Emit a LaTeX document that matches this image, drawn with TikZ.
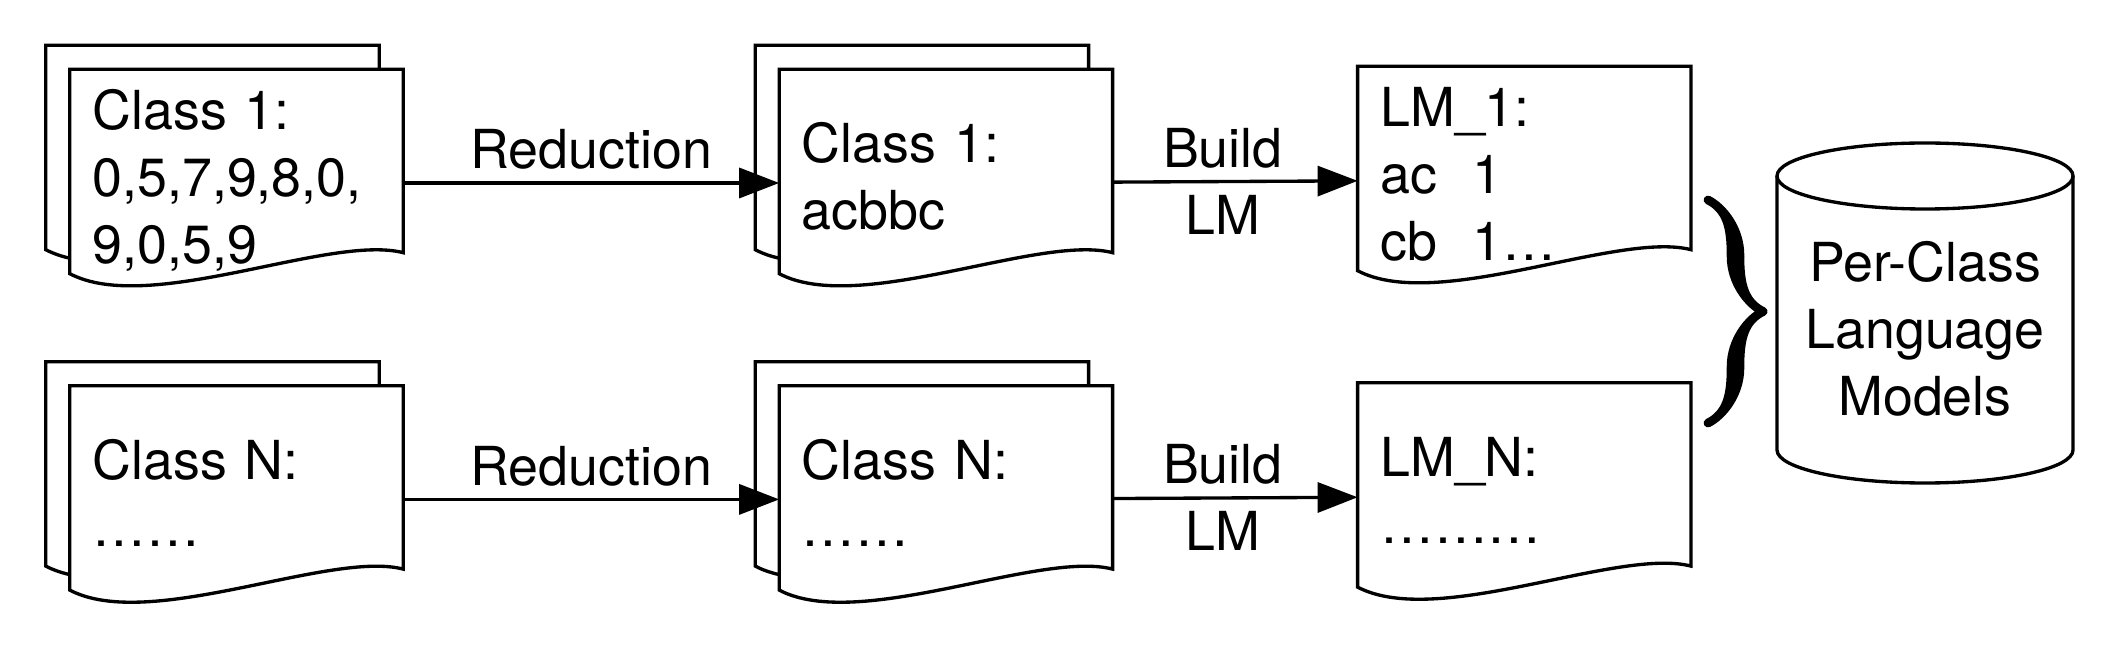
\documentclass[tikz,border=0pt]{standalone}
\usepackage{fontspec}
\setmainfont{TeX Gyre Heros}
\usetikzlibrary{arrows.meta,calc,positioning,backgrounds,decorations.pathreplacing,calligraphy}
\newcommand{\diagfont}{\fontsize{15.3}{19.06}\selectfont}
% page with wavy lower edge, drawn round a node (#1), shifted by (#2)
\newcommand{\pageoutline}[2]{%
  \path[docline] ($(#1.north west)+(#2)$) -- ($(#1.north east)+(#2)$)
    -- ($(#1.south east)+(#2)+(0,-44)$)
    .. controls ($(#1.south west)+(#2)+(260,-63)$) and ($(#1.south west)+(#2)+(80,19)$)
    .. ($(#1.south west)+(#2)+(0,-23)$) -- cycle;
}
\tikzset{
docpage/.style={
  rectangle,
  inner xsep=2.2mm,
  inner ysep=0pt,
  text width=28.8mm,
  minimum height=22.6mm,
  align=left,
  font=\diagfont,
  execute at begin node=\strut,
  execute at end node=\strut,
  }
}
\tikzset{
storetext/.style={
  inner sep=0pt,
  align=center,
  font=\diagfont,
  execute at begin node=\strut,
  execute at end node=\strut,
  }
}
\tikzset{
docline/.style={
  line width=0.95pt,
  draw=black,
  fill=white,
  }
}
\tikzset{
flowarrow/.style={
  line width=0.95pt,
  -{Triangle[length=4mm, width=3mm]}
  }
}
\tikzset{
edgelabel/.style={
  font=\diagfont,
  }
}
\tikzset{
bracestyle/.style={
  decorate,
  decoration={calligraphic brace, amplitude=5.5mm},
  line width=5pt,
  }
}
\begin{document}
\begin{tikzpicture}[x=0.1mm, y=-0.1mm]
    \useasboundingbox (0,0) rectangle (2120,658);
    % class 1 row
    \node[docpage] (cls1) at (236.5,183) {Class 1:\\0,5,7,9,8,0,\\9,0,5,9};
    \node[docpage, right=37.6mm of cls1] (red1) {Class 1:\\acbbc};
    \node[docpage, right=24.5mm of red1, yshift=0.3mm] (lm1) {LM\_1:\\ac\ \ 1\\cb\ \ 1…};
    % class N row
    \node[docpage, below=8.9mm of cls1] (clsN) {Class N:\\……};
    \node[docpage, below=8.9mm of red1] (redN) {Class N:\\……};
    \node[docpage, below=8.9mm of lm1] (lmN) {LM\_N:\\………};
    \node[storetext] (permodels) at (1925,338) {Per-Class\\Language\\Models};
    \begin{pgfonlayer}{background}
    \foreach \d in {cls1,red1,clsN,redN} {
      \pageoutline{\d}{-24,-24}
      \pageoutline{\d}{0,0}
    }
    \foreach \d in {lm1,lmN} {
      \pageoutline{\d}{0,0}
    }
    \end{pgfonlayer}
    \draw[flowarrow] (cls1) -- node[edgelabel, above] (redlab1) {Reduction} (red1);
    \draw[flowarrow] (clsN) -- node[edgelabel, above] (redlabN) {Reduction} (redN);
    \draw[flowarrow] (red1) -- node[edgelabel, above, pos=0.45] (buildlab1) {Build}
      node[edgelabel, below, pos=0.45] (lmlab1) {LM} (lm1);
    \draw[flowarrow] (redN) -- node[edgelabel, above, pos=0.45] (buildlabN) {Build}
      node[edgelabel, below, pos=0.45] (lmlabN) {LM} (lmN);
    % brace and cylinder
    \coordinate (brtop) at (1708,200);
    \coordinate (brbot) at (1708,423);
    \draw[bracestyle] (brtop) -- (brbot);
    \draw[line width=0.95pt] ($(permodels)+(0,-162)$) ellipse [x radius=148, y radius=33];
    \draw[line width=0.95pt] ($(permodels)+(-148,-162)$) -- ($(permodels)+(-148,112)$)
      arc[start angle=180, end angle=0, x radius=148, y radius=33] -- ($(permodels)+(148,-162)$);
\end{tikzpicture}
\end{document}
